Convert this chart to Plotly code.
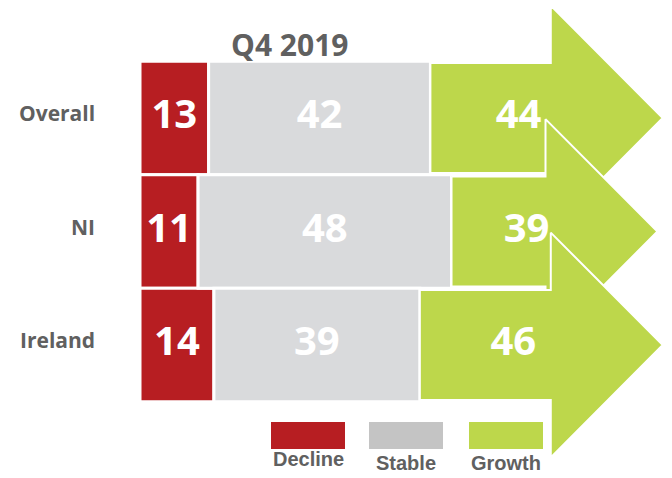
import plotly.graph_objects as go

# values
rows = ["Overall", "NI", "Ireland"]
decline = [13, 11, 14]
stable = [42, 48, 39]
growth = [44, 39, 46]
title = "Q4 2019"
legend_names = ["Decline", "Stable", "Growth"]

RED = "#b71e22"
GREY = "#d9dadc"
GREEN = "#bdd74b"
LEG_GREY = "#c4c4c4"
TXT = "#606060"

# the page body adds an 8px margin, so the figure is a bit smaller than the window
OFF = 8
W, H = 672 - OFF, 478 - OFF
HEAD = 21.2      # arrow head length (x units)
BODY = 0.485     # half height of arrow body (y units)
HEAD_H = 0.99    # half height of arrow head

ypos = list(range(len(rows)))
stable_base = decline
growth_base = [d + s for d, s in zip(decline, stable)]

fig = go.Figure()
fig.add_trace(go.Bar(y=ypos, x=decline, base=[0] * len(rows), orientation="h", width=1.0,
                     marker=dict(color=RED, line=dict(color="white", width=3)), hoverinfo="skip"))
fig.add_trace(go.Bar(y=ypos, x=stable, base=stable_base, orientation="h", width=1.0,
                     marker=dict(color=GREY, line=dict(color="white", width=3)), hoverinfo="skip"))

# growth arrows, top row first so lower ones sit on top
for y, x0, g in zip(ypos, growth_base, growth):
    x1 = x0 + g
    xn = x1 - HEAD
    xs = [x0, xn, xn, x1, xn, xn, x0, x0]
    ys = [y - BODY, y - BODY, y - HEAD_H, y, y + HEAD_H, y + BODY, y + BODY, y - BODY]
    fig.add_trace(go.Scatter(x=xs, y=ys, mode="lines", fill="toself", fillcolor=GREEN,
                             line=dict(color="white", width=2), hoverinfo="skip"))

# value labels
lab_x, lab_y, lab_t = [], [], []
for y, d, s, g in zip(ypos, decline, stable, growth):
    x0 = d + s
    lab_x += [d / 2, d + s / 2, (x0 + (x0 + g - HEAD / 2)) / 2]
    lab_y += [y, y, y]
    lab_t += [str(d), str(s), str(g)]
fig.add_trace(go.Scatter(x=lab_x, y=lab_y, text=lab_t, mode="text",
                         textfont=dict(family="Open Sans", size=40, color="white", weight="bold"),
                         hoverinfo="skip"))

# row labels
for y, name in zip(ypos, rows):
    fig.add_annotation(x=-8.2, y=y - 0.04, text=name, showarrow=False, xanchor="right",
                       font=dict(family="Open Sans", size=21, color=TXT, weight="bold"))


def px(x):
    return (x - OFF) / W


def py(y):
    return 1 - (y - OFF) / H


fig.add_annotation(x=px(289), y=py(45), xref="paper", yref="paper", text=title,
                   showarrow=False, xanchor="center", yanchor="middle",
                   font=dict(family="Open Sans", size=30, color=TXT, weight="bold"))

# legend built by hand: swatch above its label
leg_cols = [RED, LEG_GREY, GREEN]
leg_left = [271, 369, 469]
leg_text_y = [459, 463, 463]
for name, col, lx, ty in zip(legend_names, leg_cols, leg_left, leg_text_y):
    fig.add_shape(type="rect", xref="paper", yref="paper",
                  x0=px(lx), x1=px(lx + 74), y0=py(449), y1=py(422),
                  fillcolor=col, line=dict(width=0))
    fig.add_annotation(x=px(lx + 37), y=py(ty), xref="paper", yref="paper", text=name,
                       showarrow=False, xanchor="center", yanchor="middle",
                       font=dict(family="Liberation Sans", size=20, color=TXT, weight="bold"))

px_per_unit = 5.28
x_left = 140 - OFF
row_px0, row_step = 118 - OFF, 113.5
fig.update_layout(
    width=W, height=H, margin=dict(l=0, r=0, t=0, b=0),
    barmode="overlay", showlegend=False,
    plot_bgcolor="white", paper_bgcolor="white",
    xaxis=dict(range=[-x_left / px_per_unit, (W - x_left) / px_per_unit], visible=False, fixedrange=True),
    yaxis=dict(range=[(H - row_px0) / row_step, -row_px0 / row_step], visible=False, fixedrange=True),
)

fig.write_html("out.html")
